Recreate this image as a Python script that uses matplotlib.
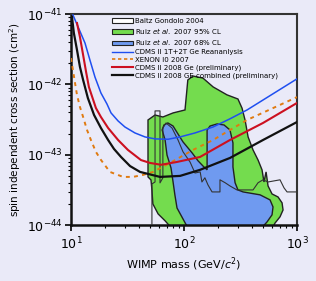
import numpy as np
import matplotlib
matplotlib.use("Agg")
import matplotlib.pyplot as plt
from matplotlib.patches import Polygon, Patch
from matplotlib.lines import Line2D

# limit curves (mass in GeV/c^2, cross section in cm^2)
blue_m = [10.4, 11.77, 13.3, 14.7, 16.3, 18.4, 20.8, 22.6, 26.1, 30.0, 36.8, 45.2, 55.4,
          72.2, 92.2, 125, 180.6, 255, 361, 1000]
blue_s = [9.7e-42, 6.12e-42, 3.87e-42, 2.22e-42, 1.27e-42, 7.55e-43, 5.27e-43, 3.93e-43,
          3.02e-43, 2.48e-43, 2.04e-43, 1.79e-43, 1.68e-43, 1.66e-43, 1.79e-43, 2.04e-43,
          2.48e-43, 3.24e-43, 4.33e-43, 1.2e-42]

xenon_m = [10.0, 10.4, 10.85, 11.3, 12.0, 12.8, 13.86, 15.0, 16.6, 18.4, 22.1, 28.9, 35.4,
           43.4, 53.2, 75.2, 120, 180.6, 361, 1000]
xenon_s = [2.37e-42, 1.6e-42, 1.05e-42, 7.07e-43, 4.78e-43, 3.44e-43, 2.25e-43, 1.62e-43,
           1.1e-43, 8.44e-44, 5.7e-44, 4.84e-44, 4.84e-44, 5.17e-44, 5.7e-44, 7.65e-44,
           1.17e-43, 1.62e-43, 3.12e-43, 6.6e-43]

ge_m = [11.3, 12.0, 12.8, 13.6, 14.4, 16.6, 18.4, 21.3, 26.1, 31.9, 41.6, 50.0,
        62.6, 86.7, 138.6, 255, 500, 1000]
ge_s = [7.45e-42, 4.71e-42, 2.62e-42, 1.5e-42, 9.18e-43, 4.62e-43, 3.44e-43,
        2.4e-43, 1.62e-43, 1.17e-43, 8.4e-44, 7.65e-44, 7.2e-44, 7.9e-44, 9.3e-44,
        1.62e-43, 2.83e-43, 5.45e-43]

comb_m = [10.2, 10.6, 11.3, 12.0, 12.8, 14.1, 16.0, 18.4, 21.3, 24.0, 27.7, 33.3, 40.8,
          61.3, 92.2, 138.6, 255, 500, 1000]
comb_s = [9.1e-42, 5.37e-42, 3.08e-42, 1.77e-42, 1.155e-42, 6.4e-43, 3.67e-43, 2.4e-43,
          1.62e-43, 1.21e-43, 9.3e-44, 6.9e-44, 5.7e-44, 4.84e-44, 5.0e-44, 6.1e-44,
          9.0e-44, 1.62e-43, 2.92e-43]

# Ruiz et al. 2007 regions
green_m = [83, 68, 59, 53, 52, 51, 48, 48, 48, 55.4, 65, 80, 102, 106, 108, 120, 147,
           181, 240, 300, 326, 347, 369, 408, 452, 490, 510, 532, 554, 601, 679,
           737, 752, 707, 639, 577]
green_s = [8e-45, 1.15e-44, 1.44e-44, 2.0e-44, 3.16e-44, 4.38e-44, 4.84e-44, 1.17e-43,
           3.12e-43, 3.67e-43, 3.44e-43, 3.93e-43, 4.33e-43, 8.3e-43, 1.155e-42,
           1.315e-42, 1.23e-42, 9.2e-43, 7.1e-43, 6.2e-43, 4.6e-43, 3.1e-43, 1.79e-43,
           1.17e-43, 8.4e-44, 6.1e-44, 4.1e-44, 5.7e-44, 3.6e-44, 2.77e-44, 2.51e-44,
           2.07e-44, 1.64e-44, 1.31e-44, 1.07e-44, 8e-45]

blue_reg_m = [113, 98, 86.7, 83, 80, 76.7, 70.7, 68, 64, 66.5, 72, 80, 88.5, 98, 118,
              133, 150, 160, 160, 170, 196, 226, 255, 271, 271, 283, 300, 333, 471,
              577, 613, 601, 543, 452]
blue_reg_s = [8e-45, 1.22e-44, 1.75e-44, 2.69e-44, 4.1e-44, 6.5e-44, 9.9e-44, 1.62e-43,
              2.25e-43, 2.65e-43, 2.83e-43, 2.56e-43, 1.97e-43, 1.52e-43, 1.06e-43,
              8.2e-44, 6.7e-44, 6.1e-44, 2.25e-43, 2.56e-43, 2.74e-43, 2.65e-43,
              2.25e-43, 1.47e-43, 6.7e-44, 4.0e-44, 3.16e-44, 2.96e-44, 2.69e-44,
              2.28e-44, 1.81e-44, 1.40e-44, 1.11e-44, 8e-45]

# Baltz Gondolo 2004 outline
baltz_m = [52, 52, 55.4, 55.4, 61.3, 61.3, 65, 65, 69.3, 78.3, 88.5, 98, 113, 125,
           139, 144, 153, 163, 177, 208, 208, 231, 255, 294, 408, 452, 500, 554,
           707, 767, 816, 1000]
baltz_s = [8e-45, 3.85e-44, 4.1e-44, 4.2e-43, 4.2e-43, 3.98e-44, 4.7e-44, 2.4e-43,
           2.83e-43, 2.4e-43, 1.62e-43, 1.1e-43, 7.9e-44, 5.5e-44, 5.7e-44, 4.1e-44,
           4.7e-44, 3.72e-44, 2.96e-44, 2.96e-44, 4.4e-44, 4.0e-44, 3.6e-44, 3.16e-44,
           3.16e-44, 4.0e-44, 4.4e-44, 4.1e-44, 4.4e-44, 3.38e-44, 2.96e-44, 2.96e-44]

bg = '#eaeaf8'
green = '#74dc4e'
blue_fill = '#6f9af0'

fig = plt.figure(figsize=(3.16, 2.81), dpi=100, facecolor=bg)
ax = fig.add_axes([0.2247, 0.199, 0.7153, 0.751], facecolor=bg)
ax.set_xscale('log')
ax.set_yscale('log')

ax.add_patch(Polygon(np.column_stack([green_m, green_s]), closed=True,
                     facecolor=green, edgecolor='#222222', lw=1.0, zorder=1))
ax.add_patch(Polygon(np.column_stack([blue_reg_m, blue_reg_s]), closed=True,
                     facecolor=blue_fill, edgecolor='#222222', lw=1.0, zorder=2))
ax.plot(baltz_m, baltz_s, color='#333333', lw=0.8, zorder=3)

ax.plot(blue_m, blue_s, color='#1f4ff0', lw=1.1, zorder=4, solid_joinstyle='round')
ax.plot(xenon_m, xenon_s, color='#e07a10', lw=1.4, ls=(0, (2, 2.2)), zorder=4)
ax.plot(ge_m, ge_s, color='#cc1020', lw=1.5, zorder=5, solid_joinstyle='round')
ax.plot(comb_m, comb_s, color='#111111', lw=1.6, zorder=6, solid_joinstyle='round')

ax.set_xlim(10, 1000)
ax.set_ylim(1e-44, 1e-41)
ax.set_xticks([10, 100, 1000])
ax.set_yticks([1e-44, 1e-43, 1e-42, 1e-41])
ax.tick_params(which='major', direction='out', length=4, width=1.2, labelsize=9, pad=2)
ax.tick_params(which='minor', direction='out', length=2.5, width=0.8)
ax.tick_params(axis='x', pad=4)

for side in ['left', 'bottom']:
    ax.spines[side].set_linewidth(1.8)
    ax.spines[side].set_color('#111111')
for side in ['top', 'right']:
    ax.spines[side].set_linewidth(1.5)
    ax.spines[side].set_color('#333333')

ax.set_xlabel(r'WIMP mass (GeV/$c^2$)', fontsize=8, labelpad=2)
ax.set_ylabel(r'spin independent cross section (cm$^2$)', fontsize=7.5, labelpad=3)

handles = [
    Patch(facecolor='white', edgecolor='#222222', lw=0.8),
    Patch(facecolor=green, edgecolor='#222222', lw=0.8),
    Patch(facecolor=blue_fill, edgecolor='#222222', lw=0.8),
    Line2D([], [], color='#1f4ff0', lw=1.0),
    Line2D([], [], color='#e07a10', lw=1.2, ls=(0, (2, 1.6))),
    Line2D([], [], color='#cc1020', lw=1.5),
    Line2D([], [], color='#111111', lw=1.6),
]
labels = [
    'Baltz Gondolo 2004',
    r'Ruiz $\it{et\ al.}$ 2007 95% CL',
    r'Ruiz $\it{et\ al.}$ 2007 68% CL',
    'CDMS II 1T+2T Ge Reananlysis',
    'XENON I0 2007',
    'CDMS II 2008 Ge (preliminary)',
    'CDMS II 2008 GE combined (preliminary)',
]
ax.legend(handles, labels, loc='upper left', bbox_to_anchor=(0.18, 0.985),
          frameon=False, handlelength=3.0, handleheight=0.7, handletextpad=0.3,
          labelspacing=0.25, borderaxespad=0.0, borderpad=0.1,
          prop={'family': ['Liberation Sans Narrow', 'DejaVu Sans'], 'size': 5.0})

fig.savefig('out.png', dpi=100, facecolor=bg)
